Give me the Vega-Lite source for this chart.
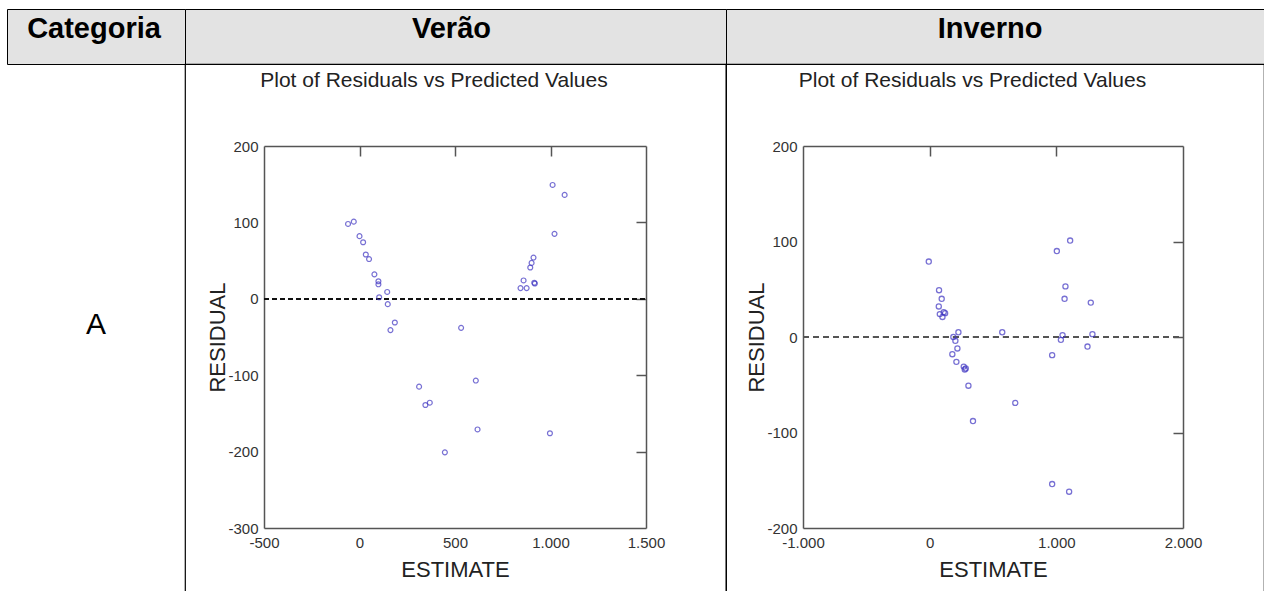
{
  "$schema": "https://vega.github.io/schema/vega-lite/v6.json",
  "background": "white",
  "padding": {"left": 6, "top": 8, "right": 0, "bottom": 0},
  "columns": 3,
  "spacing": 0,
  "bounds": "flush",
  "config": {
    "font": "Liberation Sans",
    "view": {"stroke": "#000000", "strokeWidth": 1.2},
    "axis": {
      "grid": false,
      "labelFont": "Liberation Sans",
      "labelFontSize": 15,
      "labelColor": "#333333",
      "labelFlush": false,
      "labelOverlap": false,
      "domainColor": "#555555",
      "domainWidth": 1.5,
      "tickColor": "#555555",
      "tickWidth": 1.5,
      "titleFont": "Liberation Sans",
      "titleFontWeight": "normal",
      "titleColor": "#222222",
      "titleFontSize": 22
    }
  },
  "datasets": {
    "verao": [
      {"estimate": -60, "residual": 98},
      {"estimate": -30, "residual": 101},
      {"estimate": 0, "residual": 82},
      {"estimate": 19, "residual": 74},
      {"estimate": 33, "residual": 58},
      {"estimate": 50, "residual": 52},
      {"estimate": 78, "residual": 32},
      {"estimate": 99, "residual": 23},
      {"estimate": 99, "residual": 19},
      {"estimate": 103, "residual": 2},
      {"estimate": 145, "residual": 9},
      {"estimate": 148, "residual": -7},
      {"estimate": 185, "residual": -31},
      {"estimate": 162, "residual": -41},
      {"estimate": 532, "residual": -38},
      {"estimate": 312, "residual": -115},
      {"estimate": 345, "residual": -139},
      {"estimate": 368, "residual": -136},
      {"estimate": 609, "residual": -107},
      {"estimate": 618, "residual": -171},
      {"estimate": 447, "residual": -201},
      {"estimate": 997, "residual": -176},
      {"estimate": 1011, "residual": 149},
      {"estimate": 1074, "residual": 136},
      {"estimate": 1021, "residual": 85},
      {"estimate": 843, "residual": 14},
      {"estimate": 859, "residual": 24},
      {"estimate": 875, "residual": 14},
      {"estimate": 894, "residual": 41},
      {"estimate": 901, "residual": 47},
      {"estimate": 911, "residual": 54},
      {"estimate": 915, "residual": 21},
      {"estimate": 918, "residual": 20}
    ],
    "inverno": [
      {"estimate": -7, "residual": 79},
      {"estimate": 74, "residual": 49},
      {"estimate": 95, "residual": 40},
      {"estimate": 72, "residual": 32},
      {"estimate": 80, "residual": 24},
      {"estimate": 101, "residual": 21},
      {"estimate": 122, "residual": 25},
      {"estimate": 111, "residual": 26},
      {"estimate": 187, "residual": 0},
      {"estimate": 227, "residual": 5},
      {"estimate": 203, "residual": -4},
      {"estimate": 219, "residual": -12},
      {"estimate": 179, "residual": -18},
      {"estimate": 211, "residual": -26},
      {"estimate": 269, "residual": -31},
      {"estimate": 277, "residual": -34},
      {"estimate": 285, "residual": -33},
      {"estimate": 306, "residual": -51},
      {"estimate": 342, "residual": -88},
      {"estimate": 573, "residual": 5},
      {"estimate": 676, "residual": -69},
      {"estimate": 1004, "residual": 90},
      {"estimate": 1109, "residual": 101},
      {"estimate": 1072, "residual": 53},
      {"estimate": 1065, "residual": 40},
      {"estimate": 1272, "residual": 36},
      {"estimate": 1049, "residual": 2},
      {"estimate": 1036, "residual": -3},
      {"estimate": 1285, "residual": 3},
      {"estimate": 1246, "residual": -10},
      {"estimate": 967, "residual": -19},
      {"estimate": 967, "residual": -154},
      {"estimate": 1101, "residual": -162}
    ]
  },
  "concat": [
    {
      "width": 178,
      "height": 55,
      "view": {"fill": "#e3e3e3", "stroke": "#000000"},
      "data": {"values": [{"label": "Categoria"}]},
      "mark": {"type": "text", "fontSize": 29, "fontWeight": "bold", "baseline": "alphabetic", "dy": 1.5, "dx": -2, "color": "#000000"},
      "encoding": {"text": {"field": "label"}}
    },
    {
      "width": 541,
      "height": 55,
      "view": {"fill": "#e3e3e3", "stroke": "#000000"},
      "data": {"values": [{"label": "Verão"}]},
      "mark": {"type": "text", "fontSize": 29, "fontWeight": "bold", "baseline": "alphabetic", "dy": 1.5, "dx": -4, "color": "#000000"},
      "encoding": {"text": {"field": "label"}}
    },
    {
      "width": 538,
      "height": 55,
      "view": {"fill": "#e3e3e3", "stroke": "#000000"},
      "data": {"values": [{"label": "Inverno"}]},
      "mark": {"type": "text", "fontSize": 29, "fontWeight": "bold", "baseline": "alphabetic", "dy": 1.5, "dx": -5, "color": "#000000"},
      "encoding": {"text": {"field": "label"}}
    },
    {
      "width": 178,
      "height": 540,
      "data": {"values": [{"label": "A"}]},
      "mark": {"type": "text", "fontSize": 30, "baseline": "alphabetic", "color": "#000000"},
      "encoding": {"text": {"field": "label"}}
    },
    {
      "width": 541,
      "height": 540,
      "data": {"name": "verao"},
      "resolve": {"axis": {"x": "independent", "y": "independent"}},
      "layer": [
        {
          "mark": {"type": "rule", "color": "#111111", "strokeWidth": 1.4, "strokeDash": [5, 3]},
          "encoding": {
            "x": {
              "datum": -500, "type": "quantitative",
              "scale": {"domain": [-500, 1500], "range": [79, 461], "nice": false, "zero": false},
              "axis": {
                "orient": "top", "offset": -82, "values": [0, 500, 1000],
                "labels": false, "tickSize": -10,
                "title": "Plot of Residuals vs Predicted Values",
                "titleFontSize": 21, "titleX": 248.5, "titleY": -60,
                "titleAlign": "center", "titleBaseline": "alphabetic"
              }
            },
            "x2": {"datum": 1500},
            "y": {
              "datum": 0, "type": "quantitative",
              "scale": {"domain": [-300, 200], "range": [464, 82], "nice": false, "zero": false},
              "axis": {
                "orient": "right", "offset": -80, "values": [-200, -100, 0, 100],
                "labels": false, "tickSize": -10, "title": null
              }
            }
          }
        },
        {
          "mark": {"type": "point", "filled": false, "color": "#3f35c2", "size": 24, "strokeWidth": 1.2},
          "encoding": {
            "x": {
              "field": "estimate", "type": "quantitative",
              "scale": {"domain": [-500, 1500], "range": [79, 461], "nice": false, "zero": false},
              "axis": {
                "orient": "bottom", "offset": -76, "values": [-500, 0, 500, 1000, 1500],
                "ticks": false, "labelPadding": 7,
                "labelExpr": "replace(replace(format(datum.value, ','), ',', '.'), '\u2212', '-')",
                "title": "ESTIMATE", "titleY": 48, "titleBaseline": "alphabetic"
              }
            },
            "y": {
              "field": "residual", "type": "quantitative",
              "scale": {"domain": [-300, 200], "range": [464, 82], "nice": false, "zero": false},
              "axis": {
                "orient": "left", "offset": -79, "values": [-300, -200, -100, 0, 100, 200],
                "ticks": false, "labelPadding": 6,
                "labelExpr": "replace(replace(format(datum.value, ','), ',', '.'), '\u2212', '-')",
                "title": "RESIDUAL", "titleX": -40, "titleBaseline": "alphabetic"
              }
            }
          }
        }
      ]
    },
    {
      "width": 538,
      "height": 540,
      "data": {"name": "inverno"},
      "resolve": {"axis": {"x": "independent", "y": "independent"}},
      "layer": [
        {
          "mark": {"type": "rule", "color": "#555555", "strokeWidth": 2, "strokeDash": [6, 4]},
          "encoding": {
            "x": {
              "datum": -1000, "type": "quantitative",
              "scale": {"domain": [-1000, 2000], "range": [77, 457], "nice": false, "zero": false},
              "axis": {
                "orient": "top", "offset": -82, "values": [0, 1000],
                "labels": false, "tickSize": -10,
                "title": "Plot of Residuals vs Predicted Values",
                "titleFontSize": 21, "titleX": 246, "titleY": -60,
                "titleAlign": "center", "titleBaseline": "alphabetic"
              }
            },
            "x2": {"datum": 2000},
            "y": {
              "datum": 0, "type": "quantitative",
              "scale": {"domain": [-200, 200], "range": [464, 82], "nice": false, "zero": false},
              "axis": {
                "orient": "right", "offset": -81, "values": [-100, 0, 100],
                "labels": false, "tickSize": -10, "title": null
              }
            }
          }
        },
        {
          "mark": {"type": "point", "filled": false, "color": "#3f35c2", "size": 26, "strokeWidth": 1.3},
          "encoding": {
            "x": {
              "field": "estimate", "type": "quantitative",
              "scale": {"domain": [-1000, 2000], "range": [77, 457], "nice": false, "zero": false},
              "axis": {
                "orient": "bottom", "offset": -76, "values": [-1000, 0, 1000, 2000],
                "ticks": false, "labelPadding": 7,
                "labelExpr": "replace(replace(format(datum.value, ','), ',', '.'), '\u2212', '-')",
                "title": "ESTIMATE", "titleY": 48, "titleBaseline": "alphabetic"
              }
            },
            "y": {
              "field": "residual", "type": "quantitative",
              "scale": {"domain": [-200, 200], "range": [464, 82], "nice": false, "zero": false},
              "axis": {
                "orient": "left", "offset": -77, "values": [-200, -100, 0, 100, 200],
                "ticks": false, "labelPadding": 6,
                "labelExpr": "replace(replace(format(datum.value, ','), ',', '.'), '\u2212', '-')",
                "title": "RESIDUAL", "titleX": -40, "titleBaseline": "alphabetic"
              }
            }
          }
        }
      ]
    }
  ]
}
